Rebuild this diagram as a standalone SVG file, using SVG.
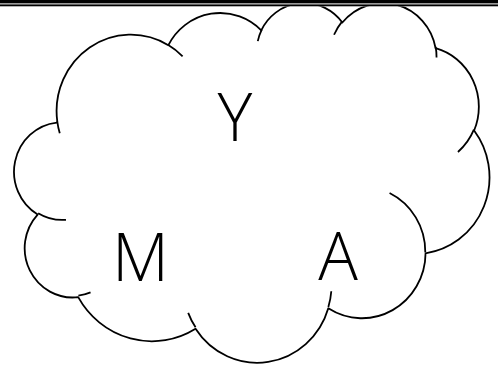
<svg xmlns="http://www.w3.org/2000/svg" width="498" height="372" viewBox="0 0 498 372">
<style>
.outline{fill:#fff;stroke:#000;stroke-width:1.8;stroke-linejoin:round}
.tick{fill:none;stroke:#000;stroke-width:1.8}
.lbl{font-family:"Open Sans","Noto Sans","Liberation Sans",sans-serif;font-weight:300;font-size:66px;fill:#000;text-anchor:middle}
</style>
<rect width="498" height="372" fill="#fff"/>
<g id="cloud" transform="translate(14.4,1.83) scale(0.010993,0.008327)">
<path class="outline" vector-effect="non-scaling-stroke" d="M3900 14370 A6753 9190 0 0 1 14005 5202 A5333 7267 0 0 1 22456 3429 A4365 5945 0 0 1 29833 2476 A4857 6595 0 0 1 38317 5572 A5333 7273 0 0 1 41818 15455 A6775 9220 0 0 1 37402 30196 A5785 7867 0 0 1 28554 36806 A6752 9215 0 0 1 16479 39259 A7720 10543 0 0 1 5804 35466 A4360 5918 0 0 1 2113 25543 A4345 5945 0 0 1 3863 14500 Z"/>
<path class="tick" vector-effect="non-scaling-stroke" d="M4693 26177 A4345 5945 0 0 1 2160 25380 M6928 34899 A4360 5918 0 0 1 5820 35281 M16478 39090 A6752 9215 0 0 1 15809 37348 M28827 34751 A6752 9215 0 0 1 28560 36660 M34129 22954 A5785 7867 0 0 1 37380 30090 M41798 15354 A5333 7273 0 0 1 40349 18031 M38324 5426 A4857 6595 0 0 1 38401 6689 M29078 3952 A4857 6595 0 0 1 29820 2339 M22141 4720 A4365 5945 0 0 1 22500 3331 M14000 5192 A6753 9190 0 0 1 15300 6540 M4127 15789 A6753 9190 0 0 1 3900 14371"/>
</g>
<g id="header-rule">
<rect x="0" y="0" width="498" height="6.4" fill="#fff"/>
<rect x="0" y="0" width="498" height="3.4" fill="#000"/>
<rect x="0" y="4.4" width="498" height="1.9" fill="#000"/>
</g>
<g id="connectors"/>
<g id="label-Y"><text class="lbl" x="235" y="141">Y</text></g>
<g id="label-M"><text class="lbl" x="140.5" y="280.5">M</text></g>
<g id="label-A"><text class="lbl" x="338" y="280">A</text></g>
</svg>
